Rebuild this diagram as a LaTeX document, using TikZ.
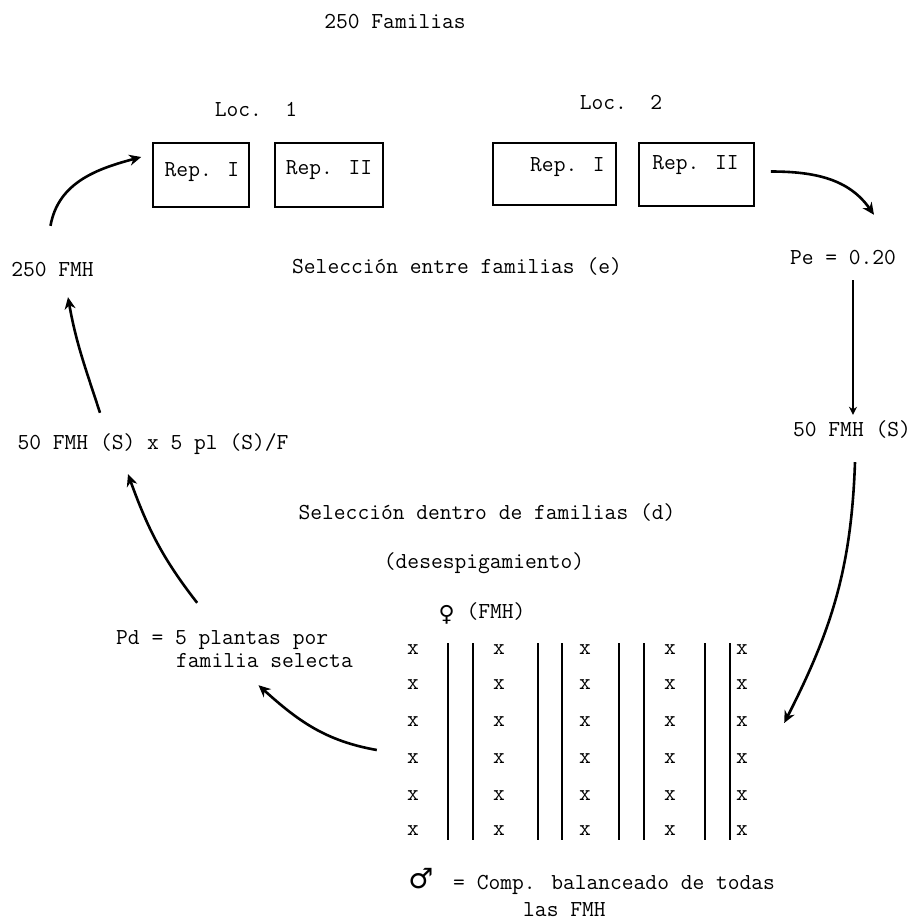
\documentclass[tikz,border=0pt]{standalone}
\usepackage{fontspec}
\newfontfamily\symf{DejaVu Sans}
\usetikzlibrary{arrows.meta}
\begin{document}
\begin{tikzpicture}[x=1pt,y=1pt,
  txt/.style={inner sep=0pt, font=\ttfamily\fontsize{22.86}{26}\selectfont, text height=16pt, text depth=4pt},
  boxr/.style={draw, line width=1.6pt, inner sep=0pt},
  bigarr/.style={line width=2.6pt, -{Stealth[length=12pt,width=11pt]}},
  thinarr/.style={line width=2.6pt, -{Stealth[length=8pt,width=8pt]}},
  sepline/.style={line width=1.4pt},
  xmk/.style={txt}]
\fill[white] (0,0) rectangle (914,-924);
\useasboundingbox (0,0) rectangle (914,-924);

% titles
\node[txt] (fam) at (395,-22) {250 Familias};
\node[txt] (loc1) at (256,-110) {Loc.~~1};
\node[txt] (loc2) at (621,-103) {Loc.~~2};

% boxes
\node[boxr, minimum width=96pt, minimum height=64pt] (b11) at (201,-175) {};
\node[boxr, minimum width=108pt, minimum height=64pt] (b12) at (329,-175) {};
\node[boxr, minimum width=123pt, minimum height=62pt] (b21) at (554.5,-174) {};
\node[boxr, minimum width=115pt, minimum height=63pt] (b22) at (696.5,-174.5) {};
\node[txt] (r11) at (202,-170) {Rep. I};
\node[txt] (r12) at (329,-168) {Rep. II};
\node[txt] (r21) at (567.5,-165) {Rep. I};
\node[txt] (r22) at (695.5,-163) {Rep. II};

% middle row
\node[txt] (fmh) at (52.5,-270) {250 FMH};
\node[txt] (sele) at (457,-267) {Selección entre familias (e)};
\node[txt] (pe) at (843,-258) {Pe = 0.20};
\node[txt] (s50r) at (852,-430) {50 FMH (S)};
\node[txt] (s50l) at (153,-443) {50 FMH (S) x 5 pl (S)/F};
\node[txt] (seld) at (487,-513) {Selección dentro de familias (d)};
\node[txt] (desp) at (484,-562) {(desespigamiento)};
\node[txt] (fem) at (482,-612) {{\symf\fontsize{22}{22}\selectfont\raisebox{-3pt}{♀}}~(FMH)};
\node[txt, anchor=west] (pd1) at (116,-638) {Pd = 5 plantas por};
\node[txt, anchor=west] (pd2) at (176,-661) {familia selecta};

% grid
\node[inner sep=0pt, minimum width=360pt, minimum height=202pt] (grid) at (580,-741) {};
\foreach \c [count=\i] in {413,499,585,670,742}{
  \foreach \r [count=\j] in {648,683,720,757,794,829}{
    \node[xmk] (x\i\j) at (\c,-\r) {x};
  }
}
\foreach \lx in {448,473,538,562,619,644,705,730}{
  \draw[sepline] (\lx,-643) -- (\lx,-840);
}

% bottom
\node[txt] (male) at (421,-882) {{\symf\fontsize{28}{28}\selectfont ♂}};
\node[txt, anchor=west] (comp) at (453,-883) {= Comp. balanceado de todas};
\node[txt, anchor=west] (las) at (523,-910) {las FMH};

% connectors
\draw[bigarr] ([shift={(-2,34)}]fmh.north) to[out=80,in=195] ([shift={(-11,18)}]b11.west);
\draw[bigarr] ([shift={(16,3)}]b22.east) to[out=0,in=125] ([shift={(31,33)}]pe.north);
\draw[thinarr] ([shift={(10,-12)}]pe.south) -- ([shift={(1,5)}]s50r.north);
\draw[bigarr] ([shift={(3,-22)}]s50r.south) to[out=-92,in=63] ([shift={(24,18)}]grid.east);
\draw[bigarr] ([shift={(-23,-9)}]grid.west) to[out=170,in=-42] ([shift={(-6,-14)}]pd2.south);
\draw[bigarr] ([shift={(-25,25)}]pd1.north) to[out=128,in=-70] ([shift={(-25,-21)}]s50l.south);
\draw[bigarr] ([shift={(-53,20)}]s50l.north) to[out=108,in=-80] ([shift={(15.5,-17)}]fmh.south);
\end{tikzpicture}
\end{document}
